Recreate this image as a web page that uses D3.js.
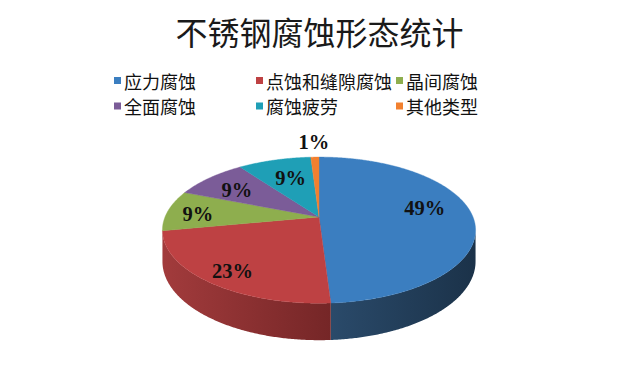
<!DOCTYPE html>
<html>
<head>
<meta charset="utf-8">
<script src="https://cdn.jsdelivr.net/npm/d3@7"></script>
<style>
  html, body { margin: 0; padding: 0; background: #ffffff; }
  svg { display: block; }
</style>
</head>
<body>
<svg id="chart" width="632" height="372"></svg>
<script>
// Corrosion form shares of stainless steel (percent)
const categories = ["应力腐蚀", "点蚀和缝隙腐蚀", "晶间腐蚀", "全面腐蚀", "腐蚀疲劳", "其他类型"];
const shares = [49, 23, 9, 9, 9, 1];
const titleText = "不锈钢腐蚀形态统计";

// Palette: top face colour and side-wall gradient (light -> dark)
const topColors  = ["#3b7ec0", "#be4143", "#8eae4e", "#7b5c98", "#1f9fb6", "#f2802f"];
const sideLight  = ["#2a4a6a", "#a23b3c", "#6d8a3a", "#5c4474", "#177c8e", "#c0621f"];
const sideDark   = ["#1b3249", "#752627", "#56702c", "#47345a", "#10606e", "#99501a"];

// Pie geometry: perspective-tilted disc
const cx = 319, cy = 217;     // projected centre of the top face
const A = 154, B = 70.7;      // horizontal / vertical semi-axes before perspective
const q = 0.18;               // perspective strength (near edge larger)
const H = 30.3;               // thickness of the disc

function project(theta, r, drop) {
  const w = 1 + q * r * Math.cos(theta);
  return [cx + A * r * Math.sin(theta) / w,
          cy - B * r * Math.cos(theta) / w + (drop || 0) / w];
}

function sample(a0, a1) {
  const n = Math.max(2, Math.ceil(Math.abs(a1 - a0) / (Math.PI / 360)));
  return d3.range(n + 1).map(i => a0 + (a1 - a0) * i / n);
}

const svg = d3.select("#chart");
const defs = svg.append("defs");
const line = d3.line();

const arcs = d3.pie().sort(null).value(d => d)(shares);

// Title
svg.append("text")
  .attr("x", 319.5).attr("y", 31)
  .attr("text-anchor", "middle")
  .attr("dominant-baseline", "central")
  .style("font-family", "'Noto Sans CJK SC', sans-serif")
  .style("font-size", "32px")
  .style("fill", "#1a1a1a")
  .text(titleText);

// Legend: three columns, two rows
const legendCols = [114, 256, 396];
const legendRows = [80.5, 106];
const legend = svg.append("g");
categories.forEach((name, i) => {
  const x = legendCols[i % 3], y = legendRows[Math.floor(i / 3)];
  legend.append("rect")
    .attr("x", x).attr("y", y - 3.5)
    .attr("width", 7).attr("height", 7)
    .attr("fill", topColors[i]);
  legend.append("text")
    .attr("x", x + 10).attr("y", y)
    .attr("dominant-baseline", "central")
    .style("font-family", "'Noto Sans CJK SC', sans-serif")
    .style("font-size", "18px")
    .style("fill", "#111")
    .text(name);
});

// Visible range of the outer wall (silhouette where cos = -q)
const wallLo = Math.acos(-q), wallHi = 2 * Math.PI - Math.acos(-q);

const pie = svg.append("g");

// Outer walls, shaded left-to-right
arcs.forEach((a, i) => {
  const s0 = Math.max(a.startAngle, wallLo), s1 = Math.min(a.endAngle, wallHi);
  if (s1 <= s0) return;
  const ang = sample(s0, s1);
  const topPts = ang.map(t => project(t, 1, 0));
  const botPts = ang.slice().reverse().map(t => project(t, 1, H));
  const pts = topPts.concat(botPts);
  const xs = pts.map(p => p[0]);
  const g = defs.append("linearGradient")
    .attr("id", "wall" + i)
    .attr("gradientUnits", "userSpaceOnUse")
    .attr("x1", d3.min(xs)).attr("x2", d3.max(xs))
    .attr("y1", 0).attr("y2", 0);
  g.append("stop").attr("offset", 0).attr("stop-color", sideLight[i]);
  g.append("stop").attr("offset", 1).attr("stop-color", sideDark[i]);
  pie.append("path")
    .attr("d", line(pts) + "Z")
    .attr("fill", "url(#wall" + i + ")");
});

// Top faces
arcs.forEach((a, i) => {
  const ang = sample(a.startAngle, a.endAngle);
  const pts = [project(0, 0, 0)].concat(ang.map(t => project(t, 1, 0)));
  pie.append("path")
    .attr("d", line(pts) + "Z")
    .attr("fill", topColors[i])
    .attr("stroke", topColors[i])
    .attr("stroke-width", 0.4);
});

// Data labels: radial placement along each slice's mid angle
const labelR  = [0.69, 0.81, 0.80, 0.73, 0.60, 1.31];
const labelDy = [-7, 3, 2, 2, -3, 0];
arcs.forEach((a, i) => {
  const mid = (a.startAngle + a.endAngle) / 2;
  const p = project(mid, labelR[i], 0);
  pie.append("text")
    .attr("x", p[0]).attr("y", p[1] + labelDy[i])
    .attr("text-anchor", "middle")
    .attr("dominant-baseline", "central")
    .style("font-family", "'Liberation Serif', 'Times New Roman', serif")
    .style("font-weight", "bold")
    .style("font-size", "20.5px")
    .style("fill", "#111")
    .text(shares[i] + "%");
});
</script>
</body>
</html>
